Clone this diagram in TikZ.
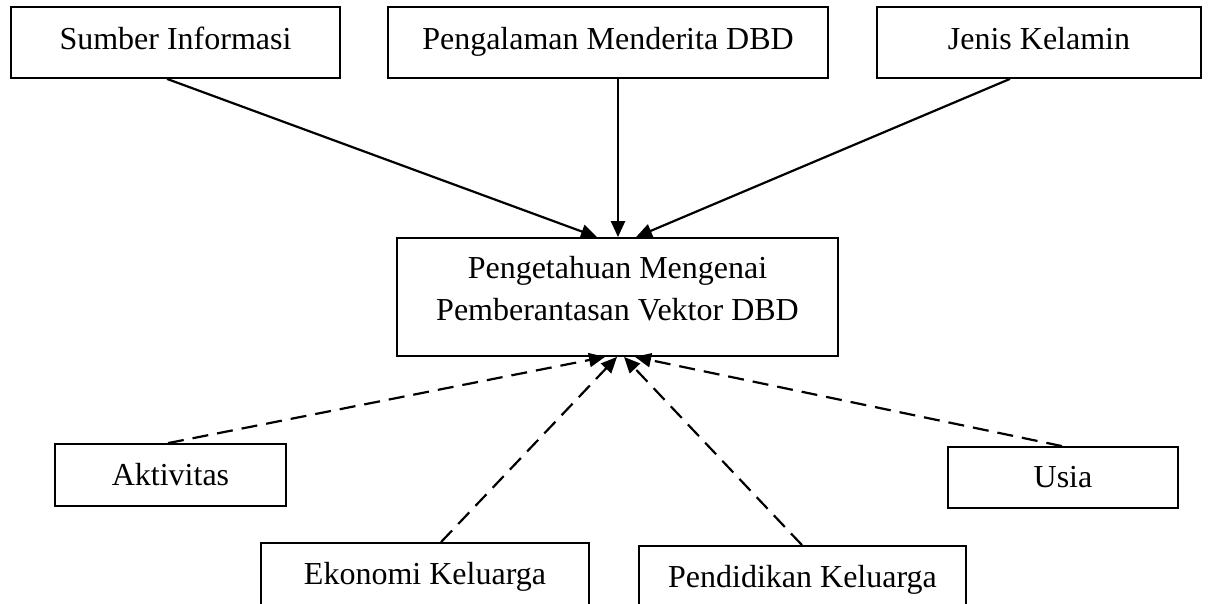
\documentclass[tikz,border=0pt]{standalone}
\usepackage{fontspec}
\setmainfont{Liberation Serif}
\usetikzlibrary{arrows.meta}
\begin{document}
\begin{tikzpicture}[x=1pt,y=-1pt,
  box/.style={draw, line width=1.8pt, inner sep=0pt, font=\fontsize{32}{44}\selectfont, text height=22pt},
  topbox/.style={box, text depth=8pt},
  lowbox/.style={box, text depth=2pt},
  plain/.style={inner sep=0pt, align=center, font=\fontsize{32}{42}\selectfont},
  solidarr/.style={line width=2.2pt, -{Triangle[length=16pt,width=14pt]}},
  dasharr/.style={line width=2.2pt, dash pattern=on 16pt off 9pt, -{Triangle[length=16pt,width=14pt]}}]
\useasboundingbox (0,0) rectangle (1210,603);
\clip (0,0) rectangle (1210,603);
\fill[white] (0,0) rectangle (1210,603);
% top boxes
\node[topbox, minimum width=329pt, minimum height=71pt] (sumber) at (175.5,42.5) {Sumber Informasi};
\node[topbox, minimum width=440pt, minimum height=71pt] (peng) at (608,42.5) {Pengalaman Menderita DBD};
\node[topbox, minimum width=324pt, minimum height=71pt] (jenis) at (1039,42.5) {Jenis Kelamin};
% centre box
\node[box, minimum width=441pt, minimum height=118pt] (pusat) at (617.5,297) {};
\node[plain] (pusattext) at (617.5,289) {Pengetahuan Mengenai\\Pemberantasan Vektor DBD};
% bottom boxes
\node[lowbox, minimum width=231pt, minimum height=62pt] (aktiv) at (170.5,475) {Aktivitas};
\node[lowbox, minimum width=230pt, minimum height=61pt] (usia) at (1063,477.5) {Usia};
\node[lowbox, minimum width=328pt, minimum height=62pt] (ekon) at (425,574) {Ekonomi Keluarga};
\node[lowbox, minimum width=327pt, minimum height=62pt] (pend) at (802.5,577) {Pendidikan Keluarga};
% solid arrows
\draw[solidarr] ([xshift=-8.5pt]sumber.south) -- ([xshift=-20.5pt]pusat.north);
\draw[solidarr] ([xshift=10pt]peng.south) -- ([xshift=0.5pt]pusat.north);
\draw[solidarr] ([xshift=-29pt]jenis.south) -- ([xshift=18.5pt]pusat.north);
% dashed arrows
\draw[dasharr] ([xshift=-2.5pt]aktiv.north) -- ([xshift=-12.5pt]pusat.south);
\draw[dasharr] ([xshift=16pt]ekon.north) -- ([xshift=-0.5pt]pusat.south);
\draw[dasharr] ([xshift=-0.5pt]pend.north) -- ([xshift=6.5pt]pusat.south);
\draw[dasharr] ([xshift=-1pt]usia.north) -- ([xshift=17.5pt]pusat.south);
\end{tikzpicture}
\end{document}
